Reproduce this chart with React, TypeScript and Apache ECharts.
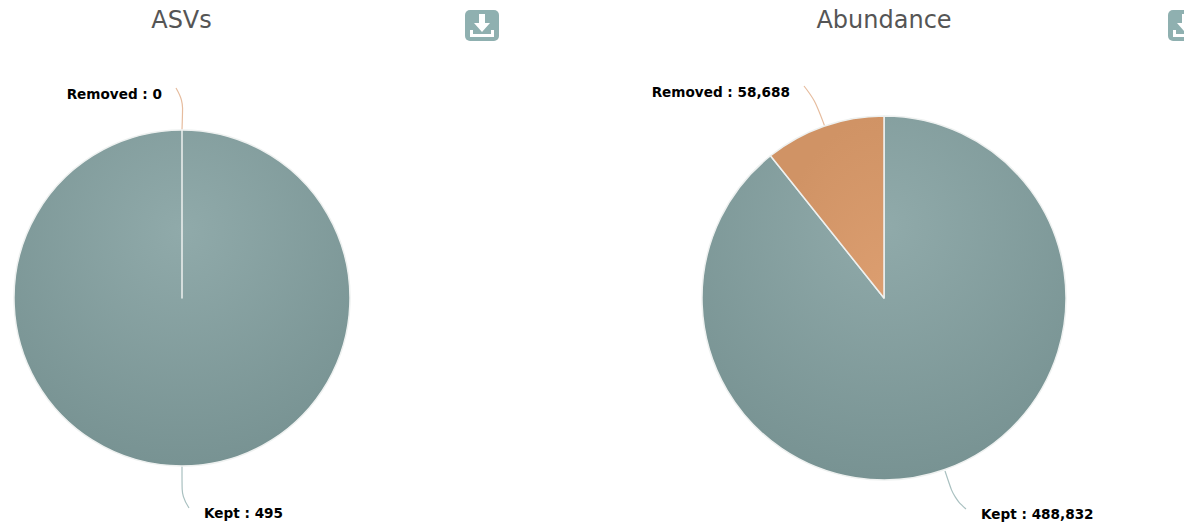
import React, { useEffect, useRef } from "react";
import * as echarts from "echarts";

const categories = ["Kept", "Removed"];
const asvValues = [495, 0];
const abundanceValues = [488832, 58688];
const chartTitles = ["ASVs", "Abundance"];

const tealGradient = () => new echarts.graphic.RadialGradient(0.5, 0.3, 0.75, [
  { offset: 0, color: "#90aaaa" },
  { offset: 1, color: "#769191" },
]);
const orangeGradient = () => new echarts.graphic.RadialGradient(1, 1, 1, [
  { offset: 0, color: "#dc9e70" },
  { offset: 1, color: "#d09365" },
]);

// label anchors and leader-line routes, [series][category]
const labelSpots = [
  [
    { x: 204, y: 513, align: "left", line: [[182, 466], [182, 497], [189, 508]] },
    { x: 162, y: 94, align: "right", line: [[182, 130], [183, 100], [176, 88]] },
  ],
  [
    { x: 981, y: 514, align: "left", line: [[945, 471], [954, 498], [966, 509]] },
    { x: 790, y: 92, align: "right", line: [[825, 127], [815, 100], [804, 86]] },
  ],
];

const downloadIcon = (left: number) => ({
  type: "group",
  x: left,
  y: 10,
  silent: true,
  children: [
    { type: "rect", shape: { x: 0, y: 0, width: 34, height: 31, r: 5 }, style: { fill: "#8fb0b0" } },
    { type: "polygon", shape: { points: [[14, 4], [20, 4], [20, 13], [25, 13], [17, 22], [9, 13], [14, 13]] }, style: { fill: "#fff" } },
    { type: "polygon", shape: { points: [[5, 20], [8, 20], [8, 24], [26, 24], [26, 20], [29, 20], [29, 27], [5, 27]] }, style: { fill: "#fff" } },
  ],
});

const makePie = (
  index: number,
  name: string,
  values: number[],
  center: number[],
  radius: number,
) => ({
  type: "pie",
  name,
  center,
  radius,
  startAngle: 90,
  clockwise: true,
  stillShowZeroSum: true,
  minShowLabelAngle: 0,
  avoidLabelOverlap: false,
  silent: true,
  data: categories.map((c, i) => ({
    name: c,
    value: values[i],
    itemStyle: { color: i === 0 ? tealGradient() : orangeGradient() },
    labelLine: { lineStyle: { color: i === 0 ? "#a9c0c0" : "#e6bc9e", width: 1.2 } },
  })),
  itemStyle: { borderColor: "#eef1f0", borderWidth: 1.5 },
  label: {
    show: true,
    position: "outside",
    formatter: (p: any) => `${p.name} : ${Number(p.value).toLocaleString("en-US")}`,
    fontFamily: "DejaVu Sans",
    fontWeight: "bold",
    fontSize: 13.6,
    color: "#000",
  },
  labelLine: { show: true, smooth: 0.4 },
  labelLayout: (p: any) => {
    const s = labelSpots[index][p.dataIndex];
    return { x: s.x, y: s.y, align: s.align, verticalAlign: "middle", labelLinePoints: s.line };
  },
});

export default function App() {
  const ref = useRef<HTMLDivElement>(null);
  useEffect(() => {
    document.body.style.margin = "0";
    const chart = echarts.init(ref.current!, null, { renderer: "svg" });
    chart.setOption({
      animation: false,
      title: [
        { text: chartTitles[0], left: 176.5, top: 3, textAlign: "center" },
        { text: chartTitles[1], left: 879, top: 3, textAlign: "center" },
      ].map((t) => ({
        ...t,
        textStyle: { fontFamily: "DejaVu Sans", fontSize: 24, fontWeight: "normal", color: "#555" },
      })),
      series: [
        makePie(0, "ASVs", asvValues, [182, 298], 168),
        makePie(1, "Abundance", abundanceValues, [884, 298], 182),
      ],
      graphic: [downloadIcon(465), downloadIcon(1168)],
    });
    return () => chart.dispose();
  }, []);
  return <div ref={ref} style={{ width: 1184, height: 524, overflow: "hidden" }} />;
}
